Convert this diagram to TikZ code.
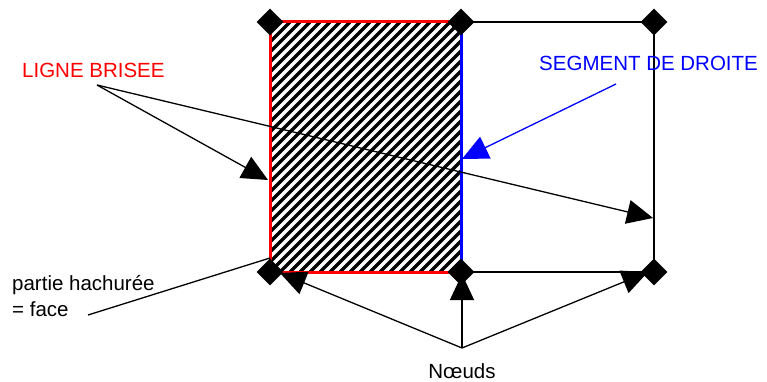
\documentclass[tikz,border=0pt]{standalone}
\usepackage{fontspec}
\setmainfont{Liberation Sans}
\usetikzlibrary{arrows.meta,shapes.geometric}

\begin{document}
\begin{tikzpicture}[x=1pt,y=-1pt,
  knot/.style={diamond,fill=black,inner sep=0pt,minimum width=27pt,minimum height=27pt},
  pointer/.style={-{Triangle[length=26pt,width=24pt]},line width=1.3pt},
  txt/.style={inner sep=0pt,font=\fontsize{20.5}{24}\selectfont}]
\useasboundingbox (0,0) rectangle (767,382);
\coordinate (A) at (270,22);
\coordinate (B) at (461,22);
\coordinate (C) at (654,22);
\coordinate (D) at (270,272);
\coordinate (E) at (461,272);
\coordinate (F) at (654,272);
% hatched face
\begin{scope}
\clip (A) rectangle (E);
\foreach \c in {292,302,...,742}
	\draw [line width=3.3pt] (\c-272,272) -- (\c-22,22);
\end{scope}
\draw [red,line width=3pt] (B) -- (A) -- (D) -- (E);
\draw [blue,line width=3pt] (B) -- (E);
\draw [line width=2pt] (B) -- (C) -- (F) -- (E);
\foreach \p in {A,B,C,D,E,F}
	\node[knot] (k\p) at (\p) {};
% labels
\node[txt,red,anchor=west] (ligne) at (22,70.5) {LIGNE BRISEE};
\node[txt,blue,anchor=west] (segment) at (539,63.5) {SEGMENT DE DROITE};
\node[txt,anchor=base west] (face1) at (12,290) {partie hachurée};
\node[txt,anchor=base west] (face2) at (12,316) {= face};
\node[txt,anchor=base] (noeuds) at (462,378) {Nœuds};
\coordinate (lb) at (97,85);
\coordinate (sd) at (616,84);
\coordinate (pf) at (88,315);
\coordinate (nd) at (462,348);
% pointers
\draw [pointer] (lb) -- (268,180);
\draw [pointer] (lb) -- (653,218);
\draw [pointer,blue] (sd) -- (462,159);
\draw [line width=1.3pt] (pf) -- (270,258);
\draw [pointer] (nd) -- (280,273);
\draw [pointer] (nd) -- (462,274);
\draw [pointer] (nd) -- (648,272);
\end{tikzpicture}
\end{document}
